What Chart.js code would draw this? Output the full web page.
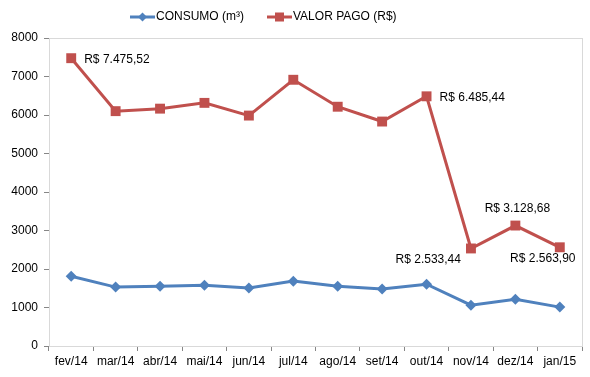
<!DOCTYPE html>
<html>
<head>
<meta charset="utf-8">
<script src="https://cdn.jsdelivr.net/npm/chart.js@4/dist/chart.umd.min.js"></script>
<style>
  html, body { margin: 0; padding: 0; background: #fff; }
  #wrap { width: 590px; height: 377px; }
</style>
</head>
<body>
<div id="wrap"><canvas id="c" width="590" height="377"></canvas></div>
<script>
const months   = ['fev/14', 'mar/14', 'abr/14', 'mai/14', 'jun/14', 'jul/14', 'ago/14', 'set/14', 'out/14', 'nov/14', 'dez/14', 'jan/15']
const consumo  = [1810, 1530, 1550, 1580, 1505, 1685, 1555, 1480, 1605, 1060, 1215, 1010]
const valorPago = [7475.52, 6100, 6165, 6315, 5985, 6915, 6215, 5830, 6485.44, 2533.44, 3128.68, 2563.90]
const valorLabels = ['R$ 7.475,52', null, null, null, null, null, null, null, 'R$ 6.485,44', 'R$ 2.533,44', 'R$ 3.128,68', 'R$ 2.563,90']
const labelSide   = ['right', null, null, null, null, null, null, null, 'right', 'belowLeft', 'above', 'belowMid']
const yTicks = [0, 1000, 2000, 3000, 4000, 5000, 6000, 7000, 8000]

const BLUE = '#4f81bd'
const RED  = '#c0504d'
const FONT = '"Liberation Sans", Arial, sans-serif'

const frame = {
  id: 'frame',
  beforeDatasetsDraw(chart) {
    const { ctx, chartArea: a } = chart
    ctx.save()
    ctx.strokeStyle = '#d9d9d9'
    ctx.lineWidth = 1
    ctx.strokeRect(a.left + 0.5, a.top + 0.5, a.right - a.left, a.bottom - a.top)
    ctx.restore()
  },
  afterDraw(chart) {
    const { ctx } = chart
    ctx.save()
    ctx.font = '12px ' + FONT
    ctx.fillStyle = '#000'
    ctx.textBaseline = 'middle'

    // value labels on the red series
    const meta = chart.getDatasetMeta(1)
    valorLabels.forEach((txt, i) => {
      if (!txt) return
      const p = meta.data[i]
      const side = labelSide[i]
      if (side === 'right') { ctx.textAlign = 'left'; ctx.fillText(txt, p.x + 13, p.y + 1) }
      else if (side === 'above') { ctx.textAlign = 'center'; ctx.fillText(txt, p.x + 2, p.y - 17) }
      else if (side === 'belowMid') { ctx.textAlign = 'center'; ctx.fillText(txt, p.x - 17, p.y + 11) }
      else if (side === 'belowLeft') { ctx.textAlign = 'right'; ctx.fillText(txt, p.x - 10, p.y + 11) }
    })

    // legend
    const items = chart.data.datasets
    const xs = [130, 267]
    items.forEach((ds, k) => {
      const x = xs[k], y = 17
      ctx.strokeStyle = ds.borderColor
      ctx.lineWidth = 3
      ctx.beginPath(); ctx.moveTo(x, y); ctx.lineTo(x + 25, y); ctx.stroke()
      ctx.fillStyle = ds.borderColor
      const cx = x + 12.5
      if (ds.pointStyle === 'rectRot') {
        ctx.beginPath(); ctx.moveTo(cx, y - 4.5); ctx.lineTo(cx + 4.5, y); ctx.lineTo(cx, y + 4.5); ctx.lineTo(cx - 4.5, y); ctx.closePath(); ctx.fill()
      } else {
        ctx.fillRect(cx - 4.5, y - 4.5, 9, 9)
      }
      ctx.fillStyle = '#000'
      ctx.textAlign = 'left'
      ctx.fillText(ds.label, x + 26, y)
    })
    ctx.restore()
  }
}

new Chart(document.getElementById('c'), {
  type: 'line',
  data: {
    labels: months,
    datasets: [
      {
        label: 'CONSUMO (m³)',
        data: consumo,
        borderColor: BLUE,
        backgroundColor: BLUE,
        borderWidth: 3,
        pointStyle: 'rectRot',
        pointRadius: 5.5,
        pointBorderWidth: 0,
        tension: 0,
      },
      {
        label: 'VALOR PAGO (R$)',
        data: valorPago,
        borderColor: RED,
        backgroundColor: RED,
        borderWidth: 3,
        pointStyle: 'rect',
        pointRadius: 7,
        pointBorderWidth: 0,
        tension: 0,
      },
    ],
  },
  options: {
    animation: false,
    responsive: false,
    layout: { padding: { top: 38, right: 8, left: 0, bottom: 0 } },
    plugins: { legend: { display: false }, tooltip: { enabled: false } },
    scales: {
      x: {
        offset: true,
        grid: { offset: true, drawOnChartArea: false, tickLength: 5, color: '#868686' },
        border: { color: '#868686', width: 1 },
        ticks: { color: '#000', font: { family: FONT, size: 12 }, maxRotation: 0, autoSkip: false, padding: 3 },
        afterFit(scale) { scale.height = 31 },
      },
      y: {
        min: 0,
        max: 8000,
        afterBuildTicks(scale) { scale.ticks = yTicks.map(v => ({ value: v })) },
        grid: { drawOnChartArea: false, tickLength: 5, color: '#868686' },
        border: { color: '#868686', width: 1 },
        ticks: { color: '#000', font: { family: FONT, size: 12 }, padding: 6, callback: v => String(v) },
        afterFit(scale) { scale.width = 49 },
      },
    },
  },
  plugins: [frame],
})
</script>
</body>
</html>
